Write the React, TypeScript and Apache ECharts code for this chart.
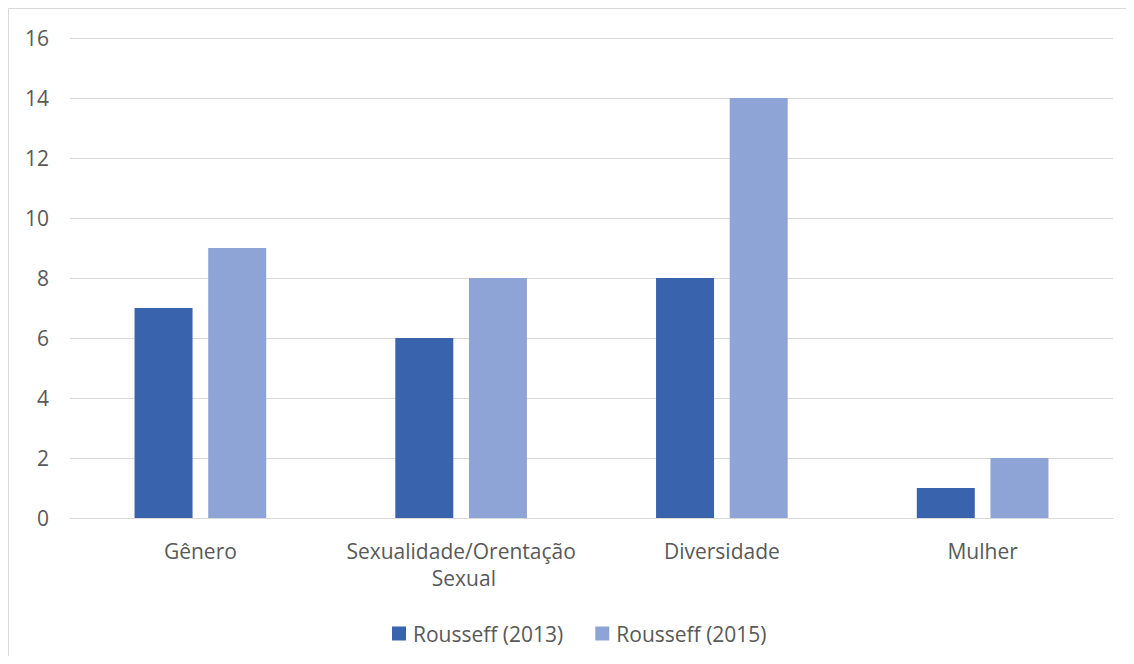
import React, { useEffect, useRef } from "react";
import * as echarts from "echarts";

const categories = ["Gênero", "Sexualidade/Orentação Sexual", "Diversidade", "Mulher"];
const seriesNames = ["Rousseff (2013)", "Rousseff (2015)"];
const values2013 = [7, 6, 8, 1];
const values2015 = [9, 8, 14, 2];
const colors = ["#3A63AD", "#8FA4D6"];

export default function App() {
  const ref = useRef<HTMLDivElement>(null);
  useEffect(() => {
    if (!ref.current) return;
    const chart = echarts.init(ref.current, null, { renderer: "svg" });
    const font = "'Open Sans', 'Noto Sans', sans-serif";
    chart.setOption({
      animation: false,
      backgroundColor: "#ffffff",
      textStyle: { fontFamily: font },
      graphic: [
        {
          type: "rect",
          shape: { x: 0.5, y: 0.5, width: 1300, height: 900 },
          style: { fill: "none", stroke: "#d9d9d9", lineWidth: 1 },
          silent: true,
        },
      ],
      grid: { left: 62, top: 30, width: 1043, height: 480, containLabel: false },
      legend: {
        left: 379,
        top: 610,
        itemWidth: 14,
        itemHeight: 14,
        itemGap: 32,
        icon: "rect",
        textStyle: { fontSize: 21, color: "#595959", fontFamily: font, padding: [0, 0, 0, 2] },
        data: seriesNames,
      },
      xAxis: {
        type: "category",
        data: categories,
        axisTick: { show: false },
        axisLine: { lineStyle: { color: "#d9d9d9", width: 1 } },
        axisLabel: {
          fontSize: 21,
          color: "#595959",
          margin: 19,
          lineHeight: 27,
          width: 250,
          overflow: "break",
          interval: 0,
          fontFamily: font,
        },
      },
      yAxis: {
        type: "value",
        min: 0,
        max: 16,
        interval: 2,
        axisLine: { show: false },
        axisTick: { show: false },
        splitLine: { lineStyle: { color: "#d9d9d9", width: 1 } },
        axisLabel: { fontSize: 21, color: "#595959", margin: 21, fontFamily: font },
      },
      series: [
        {
          name: seriesNames[0],
          type: "bar",
          data: values2013,
          barWidth: 58,
          barGap: "27%",
          itemStyle: { color: colors[0] },
        },
        {
          name: seriesNames[1],
          type: "bar",
          data: values2015,
          barWidth: 58,
          barGap: "27%",
          itemStyle: { color: colors[1] },
        },
      ],
    });
    return () => chart.dispose();
  }, []);
  return <div ref={ref} style={{ width: 1126, height: 648, overflow: "hidden" }} />;
}
